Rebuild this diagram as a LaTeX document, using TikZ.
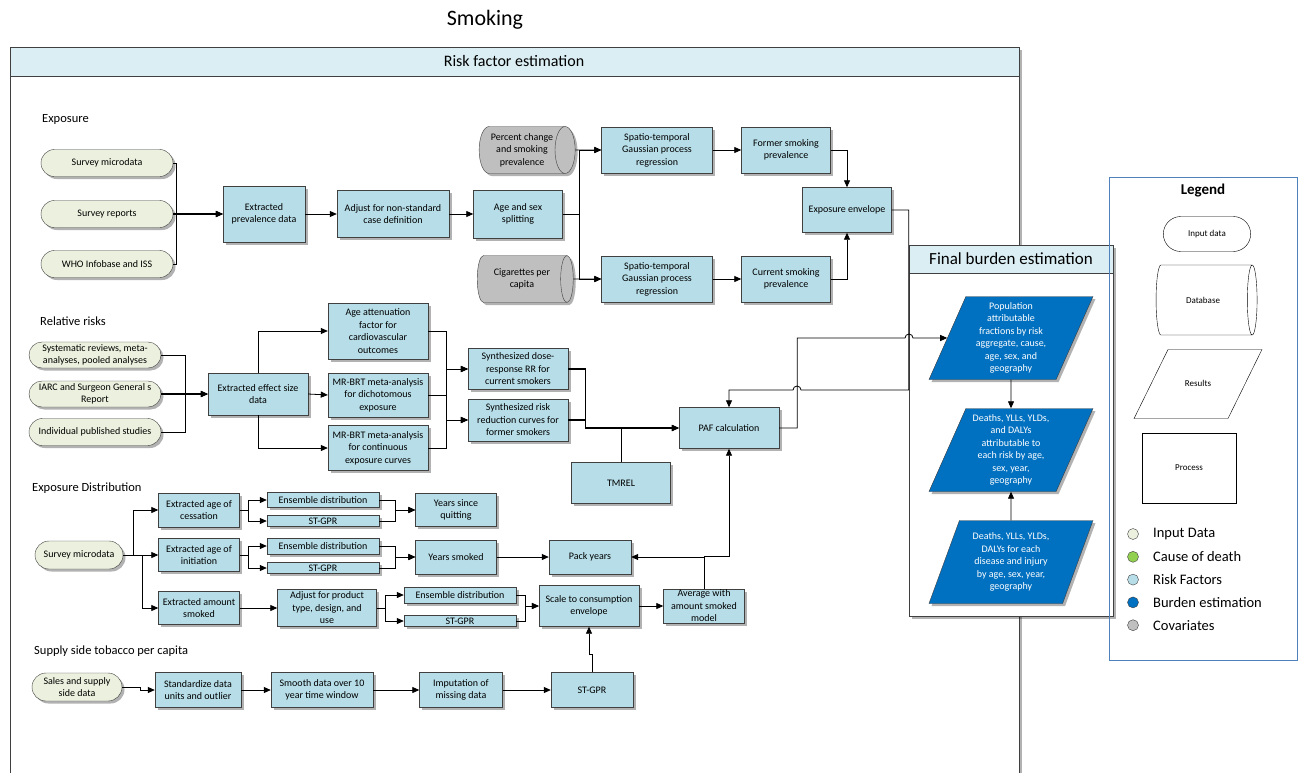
\documentclass[tikz,border=0pt]{standalone}
\usepackage{fontspec}
\setmainfont{Carlito}
\usetikzlibrary{arrows.meta,shapes.geometric,shapes.misc,shadows}
\definecolor{procblue}{HTML}{B7DEE8}
\definecolor{inpcream}{HTML}{EBF1DE}
\definecolor{dbgray}{HTML}{BFBFBF}
\definecolor{burdenblue}{HTML}{0070C0}
\definecolor{headblue}{HTML}{DBEEF4}
\definecolor{codgreen}{HTML}{92D050}
\definecolor{edgegray}{HTML}{404040}
\definecolor{legendline}{HTML}{4F81BD}
\tikzset{
  boxshadow/.style={drop shadow={shadow xshift=2.5pt,shadow yshift=-2.5pt,fill=black,opacity=.3}},
  proc/.style={draw=edgegray,fill=procblue,boxshadow,align=center,inner sep=0pt},
  inp/.style={rounded rectangle,draw=edgegray,fill=inpcream,boxshadow,align=center,inner sep=0pt},
  dbase/.style={cylinder,shape aspect=.6,draw=edgegray,fill=dbgray,boxshadow,align=center,inner sep=0pt},
  res/.style={trapezium,trapezium left angle=62.6,trapezium right angle=117.4,trapezium stretches body,draw=edgegray,fill=burdenblue,text=white,boxshadow,align=center,inner sep=0pt},
  wh/.style 2 args={minimum width=#1,minimum height=#2},
  seclabel/.style={anchor=west,inner sep=0pt,font=\fontsize{12.5}{15}\selectfont},
  link/.style={draw=black,line width=.8pt},
  arr/.style={link,-{Triangle[length=7pt,width=6pt]}},
  heavy/.style={line width=1.4pt}}
\begin{document}
\begin{tikzpicture}[x=1pt,y=-1pt,font=\fontsize{10}{12.5}\selectfont]
\useasboundingbox (0,0) rectangle (1298,772);
% frames
\node (title) at (485,20) {\fontsize{22}{26}\selectfont Smoking};
\draw[edgegray,line width=1pt,fill=white,boxshadow] (10,47) rectangle (1019,800);
\draw[edgegray,line width=1pt,fill=headblue] (10,47) rectangle (1019,76);
\node (rfehead) at (514,61) {\fontsize{16}{19}\selectfont Risk factor estimation};
\node[seclabel] (lexp) at (42,119) {Exposure};
\node[seclabel] (lrr) at (40,321) {Relative risks};
\node[seclabel] (ldist) at (32,488) {Exposure Distribution};
\node[seclabel] (lsup) at (34,651) {Supply side tobacco per capita};
% exposure
\node[inp,wh={132}{27}] (sm1) at (107,163) {Survey microdata};
\node[inp,wh={132}{27}] (sr) at (107,214) {Survey reports};
\node[inp,wh={132}{27}] (wi) at (107,264) {WHO Infobase and ISS};
\node[proc,wh={82}{56}] (prev) at (264,214) {Extracted\\prevalence data};
\node[proc,wh={112}{47}] (adj) at (393,214) {Adjust for non-standard\\case definition};
\node[proc,wh={89}{48}] (ags) at (518,214) {Age and sex\\splitting};
\node[dbase,wh={47}{96}] (pct) at (522,150) {Percent change\\and smoking\\prevalence};
\node[dbase,wh={47}{96}] (cig) at (522,279) {Cigarettes per\\capita};
\node[proc,wh={111}{46}] (st1) at (657,150) {Spatio-temporal\\Gaussian process\\regression};
\node[proc,wh={111}{46}] (st2) at (657,279) {Spatio-temporal\\Gaussian process\\regression};
\node[proc,wh={89}{46}] (fsp) at (786,150) {Former smoking\\prevalence};
\node[proc,wh={89}{46}] (csp) at (786,279) {Current smoking\\prevalence};
\node[proc,wh={89}{45}] (env) at (847,210) {Exposure envelope};
% relative risks
\node[inp,wh={132}{26}] (sr1) at (95,355) {Systematic reviews, meta-\\analyses, pooled analyses};
\node[inp,wh={132}{26}] (iarc) at (95,394) {IARC and Surgeon General s\\Report};
\node[inp,wh={132}{27}] (ips) at (95,432) {Individual published studies};
\node[proc,wh={100}{42}] (eff) at (258,394) {Extracted effect size\\data};
\node[proc,wh={100}{56}] (aaf) at (378,331) {Age attenuation\\factor for\\cardiovascular\\outcomes};
\node[proc,wh={100}{44}] (mrd) at (378,395) {MR-BRT meta-analysis\\for dichotomous\\exposure};
\node[proc,wh={100}{45}] (mrc) at (378,448) {MR-BRT meta-analysis\\for continuous\\exposure curves};
\node[proc,wh={100}{41}] (syn1) at (518,369) {Synthesized dose-\\response RR for\\current smokers};
\node[proc,wh={100}{42}] (syn2) at (518,420) {Synthesized risk\\reduction curves for\\former smokers};
\node[proc,wh={99}{41}] (tmrel) at (621,483) {TMREL};
\node[proc,wh={100}{41}] (paf) at (729,428) {PAF calculation};
% exposure distribution
\node[inp,wh={88}{28}] (smd) at (79,555) {Survey microdata};
\node[proc,wh={81}{34}] (ces) at (199,510) {Extracted age of\\cessation};
\node[proc,wh={81}{33}] (ini) at (199,555) {Extracted age of\\initiation};
\node[proc,wh={81}{33}] (amt) at (199,608) {Extracted amount\\smoked};
\node[proc,wh={112}{15}] (ens1) at (323,500) {Ensemble distribution};
\node[proc,wh={112}{11}] (st3) at (323,521) {ST-GPR};
\node[proc,wh={112}{16}] (ens2) at (323,546) {Ensemble distribution};
\node[proc,wh={112}{11}] (st4) at (323,568) {ST-GPR};
\node[proc,wh={81}{33}] (ysq) at (456,510) {Years since\\quitting};
\node[proc,wh={81}{34}] (ysm) at (456,557) {Years smoked};
\node[proc,wh={82}{34}] (pack) at (590,557) {Pack years};
\node[proc,wh={99}{37}] (adjp) at (327,608) {Adjust for product\\type, design, and\\use};
\node[proc,wh={112}{16}] (ens3) at (460,595) {Ensemble distribution};
\node[proc,wh={112}{11}] (st5) at (460,621) {ST-GPR};
\node[proc,wh={100}{41}] (scale) at (589,606) {Scale to consumption\\envelope};
\node[proc,wh={81}{34}] (avg) at (704,606) {Average with\\amount smoked\\model};
% supply side
\node[inp,wh={90}{28}] (sales) at (77,687) {Sales and supply\\side data};
\node[proc,wh={86}{35}] (std) at (198,690) {Standardize data\\units and outlier};
\node[proc,wh={102}{35}] (smo) at (322,690) {Smooth data over 10\\year time window};
\node[proc,wh={83}{35}] (imp) at (461,690) {Imputation of\\missing data};
\node[proc,wh={82}{35}] (st6) at (592,690) {ST-GPR};
% final burden
\draw[edgegray,line width=1pt,fill=white,boxshadow] (909,245) rectangle (1113,616);
\draw[edgegray,line width=1pt,fill=headblue] (909,245) rectangle (1113,273);
\node (fbhead) at (1011,259) {\fontsize{17}{20}\selectfont Final burden estimation};
\node[res,wh={164}{83}] (p1) at (1011,338) {Population\\attributable\\fractions by risk\\aggregate, cause,\\age, sex, and\\geography};
\node[res,wh={164}{83}] (p2) at (1011,450) {Deaths, YLLs, YLDs,\\and DALYs\\attributable to\\each risk by age,\\sex, year,\\geography};
\node[res,wh={164}{83}] (p3) at (1011,562) {Deaths, YLLs, YLDs,\\DALYs for each\\disease and injury\\by age, sex, year,\\geography};
% connectors
\foreach \s in {sm1,wi}{\draw[arr] (\s.east) -- ++(3,0) |- (prev.west);}
\draw[arr,heavy] (sr.east) -- (prev.west);
\draw[arr] (prev.east) -- (adj.west);
\draw[arr] (adj.east) -- (ags.west);
\foreach \t in {st1,st2}{\draw[arr] (ags.east) -- ++(17,0) |- (\t.west);}
\draw[arr] (pct.east) -- (st1.west);
\draw[arr] (cig.east) -- (st2.west);
\draw[arr] (st1.east) -- (fsp.west);
\draw[arr] (st2.east) -- (csp.west);
\draw[arr] (fsp.east) -| (env.north);
\draw[arr] (csp.east) -| (env.south);
\draw[arr] (env.east) -- ++(17,0) -- ++(0,180) -- (801,390) arc[start angle=0,end angle=-180,radius=4] -| (paf.north);
\draw[arr] (paf.east) -- ++(18,0) -- ++(0,-90) -- (905,338) arc[start angle=180,end angle=360,radius=4] -- (p1.west);
\foreach \s in {sr1,ips}{\draw[arr] (\s.east) -- ++(24,0) |- (eff.west);}
\draw[arr,heavy] (iarc.east) -- (eff.west);
\draw[arr] (eff.north) |- (aaf.west);
\draw[arr] (eff.east) -- (mrd.west);
\draw[arr] (eff.south) |- (mrc.west);
\foreach \s in {aaf,mrd,mrc}{\foreach \t in {syn1,syn2}{\draw[arr] (\s.east) -- ++(18,0) |- (\t.west);}}
\draw[arr] (tmrel.north) |- (paf.west);
\foreach \s in {syn1,syn2}{\draw[arr,heavy] (\s.east) -- ++(17,0) |- (paf.west);}
\draw[arr] (smd.east) -- ++(10,0) |- (ces.west);
\draw[arr] (smd.east) -- (ini.west);
\draw[arr] (smd.east) -- ++(19,0) |- (amt.west);
\draw[arr] (amt.east) -- (adjp.west);
\foreach \s/\first/\second in {ces/ens1/st3,ini/ens2/st4,adjp/ens3/st5}{\draw[arr] (\s.east) -- ++(9,0) |- (\first.west);\draw[arr] (\s.east) -- ++(9,0) |- (\second.west);}
\foreach \first/\second/\tgt in {ens1/st3/ysq,ens2/st4/ysm}{\draw[arr] (\first.east) -- ++(16,0) |- (\tgt.west);\draw[arr] (\second.east) -- ++(16,0) |- (\tgt.west);}
\foreach \s in {ens3,st5}{\draw[arr] (\s.east) -- ++(9,0) |- (scale.west);}
\draw[arr] (ysm.east) -- (pack.west);
\draw[arr] (scale.east) -- (avg.west);
\draw[arr] (avg.north) |- (pack.east);
\draw[arr] (avg.north) -- ++(0,-32) -| (paf.south);
\draw[arr] (sales.east) -- ++(18,0) |- (std.west);
\draw[arr] (std.east) -- (smo.west);
\draw[arr] (smo.east) -- (imp.west);
\draw[arr] (imp.east) -- (st6.west);
\draw[arr] (st6.north) -- ++(0,-18) -| (scale.south);
\draw[arr] (p1.south) -- (p2.north);
\draw[arr] (p3.north) -- (p2.south);
% legend
\draw[legendline,line width=.8pt] (1109,177) rectangle (1297,660);
\node[font=\fontsize{15}{18}\selectfont\bfseries] (lgtitle) at (1203,191) {Legend};
\node[rounded rectangle,draw,wh={94}{35},font=\fontsize{9}{11}\selectfont] (lginp) at (1207,234) {Input data};
\node[cylinder,shape aspect=.75,draw,wh={70}{101},font=\fontsize{9}{11}\selectfont] (lgdb) at (1203,300) {Database};
\node[trapezium,trapezium left angle=63.8,trapezium right angle=116.2,draw,inner sep=0pt,text width=60,text height=37,text depth=32,align=center,font=\fontsize{9}{11}\selectfont] (lgres) at (1198,384) {Results};
\node[draw,wh={94}{70},font=\fontsize{9}{11}\selectfont] (lgproc) at (1189,468) {Process};
\foreach \col/\lbl [count=\i from 0] in {inpcream/Input Data,codgreen/Cause of death,procblue/Risk Factors,burdenblue/Burden estimation,dbgray/Covariates}{\node[circle,draw=edgegray,fill=\col,inner sep=0pt,minimum size=11] (lgc\i) at (1133,534+22.8*\i) {};\node[anchor=west,inner sep=0pt,font=\fontsize{14.5}{17}\selectfont] (lgt\i) at (1153,534+22.8*\i) {\lbl};}
\end{tikzpicture}
\end{document}
